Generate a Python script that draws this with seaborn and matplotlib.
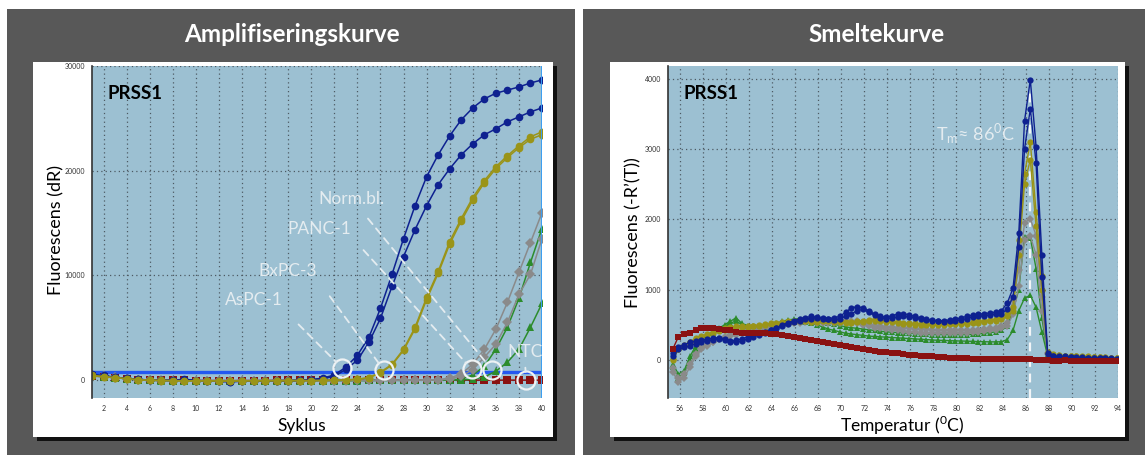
import numpy as np
import pandas as pd
import seaborn as sns
import matplotlib.pyplot as plt
from matplotlib.patches import Rectangle
from matplotlib.ticker import MultipleLocator

# ---------------- amplification curves (cycle 1-40) ----------------
cycles = np.arange(1, 41)
amp_aspc1_a = [550, 450, 280, 180, 80, 20, 0, -20, 100, -30,
               -60, -120, -150, -100, -80, -60, -60, -50, -30, 50,
               200, 500, 1240, 2380, 4100, 6860, 10100, 13520, 16670, 19430,
               21520, 23330, 24860, 26000, 26860, 27400, 27700, 28000, 28380, 28670]
amp_aspc1_b = [500, 420, 260, 170, 70, 10, -10, -30, 50, -40,
               -70, -100, -130, -90, -70, -60, -50, -40, -20, 30,
               150, 350, 1050, 1900, 3620, 5900, 8950, 11810, 14380, 16670,
               18670, 20190, 21520, 22570, 23430, 24000, 24670, 25140, 25620, 26000]
amp_bxpc3_a = [450, 350, 250, 150, 50, 0, -20, -40, -50, -60,
               -60, -70, -70, -60, -60, -50, -50, -40, -40, -30,
               -20, 0, 30, 100, 250, 760, 1520, 2950, 5050, 7900,
               10380, 13240, 15430, 17430, 19050, 20380, 21430, 22380, 23240, 23710]
amp_bxpc3_b = [420, 330, 230, 140, 40, -10, -30, -50, -60, -60,
               -70, -70, -80, -70, -60, -60, -50, -50, -40, -40,
               -30, -10, 20, 80, 220, 700, 1450, 2850, 4900, 7700,
               10200, 13000, 15200, 17200, 18850, 20200, 21250, 22200, 23000, 23450]
amp_panc1_a = [480, 380, 260, 160, 60, 0, -20, -30, -40, -50,
               -50, -60, -60, -60, -50, -50, -50, -40, -40, -40,
               -30, -30, -20, -20, -10, -10, 0, 0, 10, 20,
               50, 200, 600, 1520, 2950, 4860, 7430, 10290, 13140, 16000]
amp_panc1_b = [460, 360, 240, 150, 50, -10, -30, -40, -50, -50,
               -60, -60, -70, -60, -60, -50, -50, -50, -40, -40,
               -40, -30, -30, -20, -20, -10, -10, 0, 0, 10,
               30, 100, 400, 1000, 2190, 3430, 5520, 8190, 10100, 13520]
amp_norm_a = [470, 370, 250, 150, 50, 0, -20, -30, -40, -50,
              -60, -60, -60, -60, -50, -50, -50, -40, -40, -40,
              -30, -30, -30, -20, -20, -20, -10, -10, 0, 0,
              10, 30, 100, 500, 1330, 2950, 5050, 7810, 11240, 14480]
amp_norm_b = [450, 350, 240, 140, 40, -10, -30, -40, -50, -50,
              -60, -60, -70, -60, -60, -50, -50, -50, -40, -40,
              -40, -30, -30, -30, -20, -20, -20, -10, -10, 0,
              0, 10, 30, 100, 300, 860, 1710, 2950, 5050, 7330]
amp_ntc = [400, 330, 250, 150, 60, 10, -10, -20, -20, -30,
           -30, -30, -40, -30, -30, -30, -20, -20, -20, -20,
           -20, -10, -10, -10, -10, 0, 0, 0, 0, 0,
           0, 0, 10, 0, 10, 0, 10, 0, 10, 0]
threshold = 800
ct_x = [22.7, 26.3, 33.9, 35.7, 38.65]
ct_y = [1140, 950, 1050, 950, 0]
ct_labels = ["AsPC-1", "BxPC-3", "PANC-1", "Norm.bl.", "NTC"]

# ---------------- melt curves ----------------
melt_temp = np.round(np.arange(55.4, 94.0, 0.5), 1)
melt_aspc1_a = [50, 150, 180, 200, 230, 250, 270, 290, 300, 290,
                270, 280, 300, 330, 350, 380, 400, 430, 460, 500,
                530, 560, 580, 600, 620, 610, 600, 590, 600, 620,
                680, 740, 760, 740, 700, 650, 620, 610, 630, 650,
                660, 640, 620, 600, 580, 570, 560, 560, 570, 580,
                600, 620, 640, 650, 660, 670, 680, 700, 810, 1020,
                1800, 3400, 3985, 3035, 1500, 100, 60, 50, 50, 45,
                40, 40, 35, 30, 30, 25, 25, 20]
melt_aspc1_b = [100, 180, 220, 250, 270, 280, 300, 310, 320, 300,
                260, 250, 270, 300, 330, 360, 390, 420, 450, 480,
                510, 540, 560, 580, 590, 600, 590, 580, 570, 590,
                620, 660, 700, 720, 680, 640, 600, 590, 600, 610,
                620, 610, 600, 580, 570, 560, 550, 545, 550, 560,
                570, 590, 610, 620, 630, 640, 650, 660, 720, 900,
                1600, 3000, 3570, 2800, 1180, 80, 50, 45, 40, 40,
                35, 35, 30, 30, 25, 25, 20, 20]
melt_bxpc3_a = [0, 150, 200, 250, 300, 330, 360, 400, 430, 450,
                470, 480, 480, 480, 490, 500, 510, 520, 530, 540,
                550, 560, 570, 570, 560, 560, 570, 570, 560, 550,
                540, 540, 550, 560, 570, 580, 570, 560, 550, 540,
                530, 520, 520, 515, 510, 510, 510, 515, 520, 520,
                525, 530, 540, 550, 560, 570, 580, 600, 650, 750,
                1700, 2650, 3100, 2100, 1200, 120, 80, 70, 60, 60,
                55, 50, 50, 45, 40, 40, 35, 30]
melt_bxpc3_b = [20, 160, 210, 260, 310, 340, 370, 390, 410, 430,
                450, 460, 470, 470, 480, 490, 500, 505, 510, 520,
                530, 540, 550, 550, 545, 545, 550, 550, 545, 540,
                530, 530, 540, 545, 555, 560, 555, 545, 535, 525,
                515, 505, 500, 500, 495, 495, 495, 500, 505, 505,
                510, 515, 520, 530, 540, 550, 560, 580, 620, 700,
                1500, 2500, 2850, 1900, 1000, 100, 70, 60, 55, 55,
                50, 45, 45, 40, 40, 35, 30, 30]
melt_panc1_a = [-170, -310, -250, -100, 50, 150, 200, 250, 300, 330,
                360, 390, 410, 430, 450, 460, 470, 480, 500, 520,
                530, 540, 550, 560, 560, 550, 540, 540, 545, 550,
                560, 560, 550, 530, 510, 490, 480, 470, 465, 460,
                455, 450, 445, 440, 435, 430, 425, 420, 420, 420,
                420, 420, 425, 430, 440, 450, 460, 480, 520, 850,
                1280, 1950, 2010, 1770, 900, 100, 60, 50, 45, 40,
                40, 35, 30, 30, 25, 25, 20, 20]
melt_panc1_b = [-120, -250, -200, -50, 80, 170, 220, 260, 300, 320,
                340, 360, 380, 400, 420, 440, 450, 460, 480, 500,
                510, 520, 530, 540, 540, 530, 520, 520, 525, 530,
                535, 530, 520, 500, 480, 460, 450, 440, 430, 420,
                410, 400, 395, 390, 385, 380, 380, 380, 380, 385,
                385, 390, 395, 400, 410, 420, 430, 450, 480, 650,
                1050, 1700, 1760, 1500, 700, 90, 55, 50, 40, 40,
                35, 35, 30, 25, 25, 20, 20, 15]
melt_norm_a = [-50, -200, -150, 50, 200, 300, 350, 400, 450, 500,
               550, 600, 520, 490, 480, 480, 490, 500, 520, 550,
               570, 580, 590, 590, 580, 570, 550, 530, 510, 490,
               470, 460, 450, 440, 430, 420, 410, 400, 395, 390,
               385, 380, 375, 370, 365, 360, 360, 360, 360, 360,
               360, 360, 365, 370, 380, 390, 400, 420, 480, 700,
               1000, 1750, 1740, 1300, 600, 80, 50, 40, 35, 30,
               30, 25, 25, 20, 20, 15, 15, 10]
melt_norm_b = [-100, -250, -180, 0, 150, 250, 320, 380, 430, 480,
               520, 560, 500, 470, 460, 460, 470, 480, 490, 510,
               530, 540, 550, 540, 520, 500, 470, 440, 420, 400,
               380, 370, 360, 350, 340, 335, 330, 325, 320, 315,
               310, 305, 300, 295, 290, 285, 280, 278, 275, 272,
               270, 268, 265, 262, 260, 258, 258, 260, 290, 420,
               700, 880, 920, 750, 400, 60, 40, 30, 25, 20,
               20, 15, 15, 10, 10, 5, 5, 0]
melt_ntc = [150, 330, 370, 390, 420, 450, 460, 455, 445, 430,
            420, 400, 390, 380, 390, 385, 380, 375, 370, 360,
            345, 330, 315, 300, 285, 270, 255, 245, 230, 220,
            200, 185, 170, 160, 145, 135, 120, 110, 100, 95,
            85, 75, 70, 60, 55, 50, 45, 40, 35, 30,
            28, 25, 20, 15, 12, 10, 10, 8, 10, 12,
            15, 10, 8, 5, 0, -5, -10, -10, -5, -10,
            -15, -10, -15, -20, -15, -20, -20, -20]
tm_value = 86.4

# ---------------- long tables ----------------
amp_series = {"NTC": amp_ntc,
              "Norm.bl. 1": amp_norm_a, "Norm.bl. 2": amp_norm_b,
              "PANC-1 1": amp_panc1_a, "PANC-1 2": amp_panc1_b,
              "AsPC-1 1": amp_aspc1_a, "AsPC-1 2": amp_aspc1_b,
              "BxPC-3 1": amp_bxpc3_a, "BxPC-3 2": amp_bxpc3_b}
melt_series = {"Norm.bl. 1": melt_norm_a, "Norm.bl. 2": melt_norm_b,
               "PANC-1 1": melt_panc1_a, "PANC-1 2": melt_panc1_b,
               "BxPC-3 1": melt_bxpc3_a, "BxPC-3 2": melt_bxpc3_b,
               "AsPC-1 1": melt_aspc1_a, "AsPC-1 2": melt_aspc1_b,
               "NTC": melt_ntc}

amp_df = pd.concat([pd.DataFrame({"cycle": cycles, "dR": v, "sample": k})
                    for k, v in amp_series.items()])
melt_df = pd.concat([pd.DataFrame({"temp": melt_temp, "dRdT": v, "sample": k})
                     for k, v in melt_series.items()])

sample_color = {"AsPC-1": "#0e2190", "BxPC-3": "#9a9418", "PANC-1": "#8a8a8a",
                "Norm.bl.": "#2c8c2c", "NTC": "#8a1212"}
sample_marker = {"AsPC-1": "o", "BxPC-3": "o", "PANC-1": "D",
                 "Norm.bl.": "^", "NTC": "s"}
names = list(amp_series.keys())
palette = {n: sample_color[n.rsplit(" ", 1)[0] if n != "NTC" else "NTC"] for n in names}
markers = {n: sample_marker[n.rsplit(" ", 1)[0] if n != "NTC" else "NTC"] for n in names}

# ---------------- figure ----------------
sns.set_style("white")
plt.rcParams["font.family"] = ["Lato", "DejaVu Sans"]
plt.rcParams["mathtext.fontset"] = "custom"
plt.rcParams["mathtext.rm"] = "Lato"

W, H = 1145, 455
fig = plt.figure(figsize=(W / 100, H / 100), dpi=100)


def fbox(x0, y0, x1, y1):
    return [x0 / W, 1 - y1 / H, (x1 - x0) / W, (y1 - y0) / H]


def rect(x0, y0, x1, y1, color, z):
    b = fbox(x0, y0, x1, y1)
    fig.add_artist(Rectangle((b[0], b[1]), b[2], b[3], transform=fig.transFigure,
                             facecolor=color, edgecolor="none", zorder=z))


# dark panels, cards with shadow
for (x0, x1, cx0, cx1) in [(7, 575, 33, 553), (583, 1145, 610, 1125)]:
    rect(x0, 9, x1, 455, "#585858", -20)
    rect(cx0 + 4, 66, cx1 + 4, 441, "#111111", -15)
    rect(cx0, 62, cx1, 437, "white", -10)

bg = "#9cc0d2"
ax1 = fig.add_axes(fbox(92, 66, 542, 398))
ax2 = fig.add_axes(fbox(668, 66, 1118, 398))

for ax in (ax1, ax2):
    ax.set_facecolor(bg)
    ax.grid(True, which="major", ls=(0, (1, 2.5)), color="#4d5a63", lw=0.9)
    for s in ["top", "right", "bottom"]:
        ax.spines[s].set_visible(False)
    ax.spines["left"].set_color("#333333")
    ax.spines["left"].set_linewidth(1.2)
    ax.tick_params(which="both", direction="out", labelsize=5, colors="#333333",
                   length=3, width=0.8, pad=2)
    ax.tick_params(which="minor", length=2)

# amplification
sns.lineplot(data=amp_df, x="cycle", y="dR", hue="sample", style="sample",
             palette=palette, markers=markers, dashes=False, estimator=None,
             sort=False, legend=False, linewidth=1.1, markersize=5.5,
             markeredgewidth=0, ax=ax1)
ax1.axhline(threshold, color="#2458f0", lw=2.4, zorder=1.5)
ax1.axvline(40, color="#3d9ef0", lw=2.2, zorder=3)
ax1.set_xlim(1, 40)
ax1.set_ylim(-1700, 30000)
ax1.xaxis.set_major_locator(MultipleLocator(2))
ax1.xaxis.set_minor_locator(MultipleLocator(1))
ax1.set_yticks([0, 10000, 20000, 30000])
ax1.yaxis.set_minor_locator(MultipleLocator(5000))
ax1.set_xlabel("")
ax1.set_ylabel("")

ax1.plot(ct_x, ct_y, ls="none", marker="o", ms=13, mfc="none", mec="#eef2f4",
         mew=1.6, zorder=5)
lab_col = "#e4ecf0"
label_pos = [(15.0, 7620), (18.0, 10380), (20.7, 14480), (23.5, 17330), (38.5, 2670)]
rel = [(1, 0), (1, 0), (1, 0), (0.6, 0), (0.5, 0)]
shrink_a = [13, 12, 10, 8, 3]
for lab, (tx, ty), cx, cy, rp, sa in zip(ct_labels, label_pos, ct_x, ct_y, rel, shrink_a):
    ax1.annotate(lab, xy=(cx, cy), xytext=(tx, ty), ha="center", va="center",
                 fontsize=12.5, color=lab_col, zorder=6,
                 arrowprops=dict(arrowstyle="-", color=lab_col, lw=1.3,
                                 linestyle=(0, (4, 3)), relpos=rp,
                                 shrinkA=sa, shrinkB=6))
ax1.text(0.035, 0.9, "PRSS1", transform=ax1.transAxes, fontsize=13.5,
         fontweight="bold", color="black")

# melt
sns.lineplot(data=melt_df, x="temp", y="dRdT", hue="sample", style="sample",
             palette=palette, markers=markers, dashes=False, estimator=None,
             sort=False, legend=False, linewidth=1.0, markersize=4.5,
             markeredgewidth=0, ax=ax2)
ax2.axvline(tm_value, ymin=0, ymax=0.93, color="#f2f5f7", lw=1.6,
            ls=(0, (4, 3)), zorder=1.5)
ax2.set_xlim(55, 94)
ax2.set_ylim(-540, 4180)
ax2.xaxis.set_major_locator(MultipleLocator(2))
ax2.xaxis.set_minor_locator(MultipleLocator(1))
ax2.set_yticks([0, 1000, 2000, 3000, 4000])
ax2.yaxis.set_minor_locator(MultipleLocator(500))
ax2.set_xlabel("")
ax2.set_ylabel("")
ax2.text(81.7, 3220, r"T$_\mathregular{m}$≈ 86$^\mathregular{0}$C", ha="center",
         va="center", fontsize=13, color=lab_col)
ax2.text(0.035, 0.9, "PRSS1", transform=ax2.transAxes, fontsize=13.5,
         fontweight="bold", color="black")

# panel titles and axis labels
fig.text(292 / W, 1 - 35 / H, "Amplifiseringskurve", ha="center", va="center",
         fontsize=17.5, fontweight="bold", color="white")
fig.text(877 / W, 1 - 35 / H, "Smeltekurve", ha="center", va="center",
         fontsize=17.5, fontweight="bold", color="white")
fig.text(56 / W, 1 - 230 / H, "Fluorescens (dR)", rotation=90, ha="center",
         va="center", fontsize=13, color="black")
fig.text(633 / W, 1 - 233 / H, "Fluorescens (-R’(T))", rotation=90, ha="center",
         va="center", fontsize=13, color="black")
fig.text(302 / W, 1 - 426 / H, "Syklus", ha="center", va="center",
         fontsize=12.5, color="black")
fig.text(902 / W, 1 - 425 / H, r"Temperatur ($^\mathregular{0}$C)", ha="center",
         va="center", fontsize=12.5, color="black")

fig.savefig("out.png", dpi=100, facecolor="white")
